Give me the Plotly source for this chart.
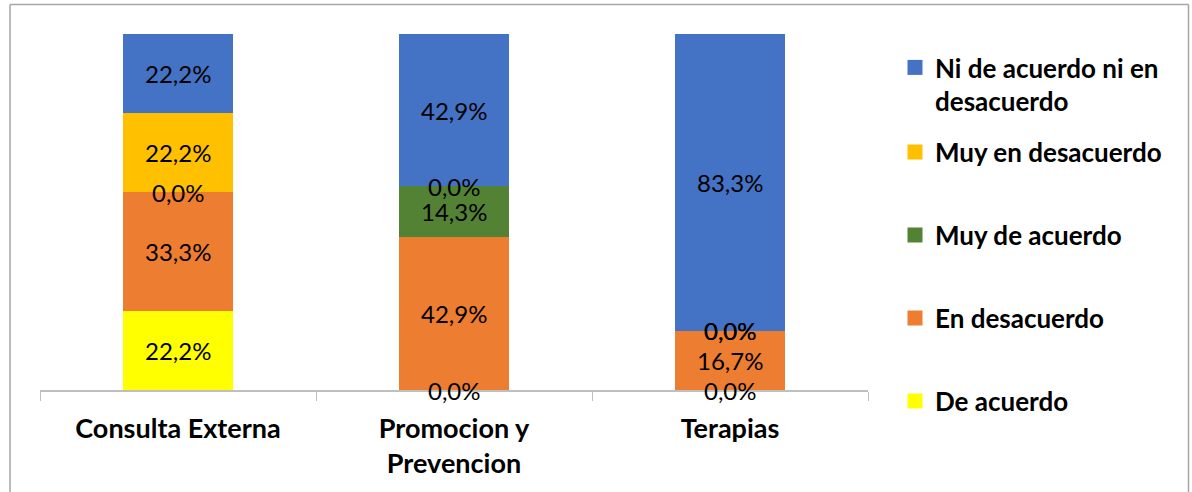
import plotly.graph_objects as go

categories = ["Consulta Externa", "Promocion y Prevencion", "Terapias"]
tick_labels = ["Consulta Externa", "Promocion y<br>Prevencion", "Terapias"]

de_acuerdo = [22.2, 0.0, 0.0]
en_desacuerdo = [33.3, 42.9, 16.7]
muy_de_acuerdo = [0.0, 14.3, 0.0]
muy_en_desacuerdo = [22.2, 0.0, 0.0]
ni_ni = [22.2, 42.9, 83.3]

series = [
    ("De acuerdo", de_acuerdo, "#FFFF00"),
    ("En desacuerdo", en_desacuerdo, "#ED7D31"),
    ("Muy de acuerdo", muy_de_acuerdo, "#548235"),
    ("Muy en desacuerdo", muy_en_desacuerdo, "#FFC000"),
    ("Ni de acuerdo ni en<br>desacuerdo", ni_ni, "#4472C4"),
]

FONT = "Lato"

# pixel layout of the plotting area
W, H = 1192, 492
L, R, T, B = 40, 868, 34, 390


def px_x(p):
    return (p - L) / (R - L)


def px_y(p):
    return (B - p) / (B - T)


# legend item vertical centres (px) from bottom trace to top trace
legend_y = [401, 318, 235, 152, 68]

fig = go.Figure()
annotations = []
base = [0.0] * len(categories)
for i, (name, vals, color) in enumerate(series):
    lg = "legend" if i == 0 else f"legend{i + 1}"
    fig.add_trace(go.Bar(
        x=categories, y=vals, name=name,
        marker=dict(color=color, line=dict(width=0)),
        width=0.4, showlegend=False, hoverinfo="skip",
    ))
    # square legend key for the series
    fig.add_trace(go.Scatter(
        x=[None], y=[None], mode="markers", name=name,
        marker=dict(symbol="square", size=15, color=color, line=dict(width=0)),
        legend=lg, showlegend=True, hoverinfo="skip",
    ))
    for j, v in enumerate(vals):
        annotations.append(dict(
            x=categories[j], y=base[j] + v / 2, xref="x", yref="y",
            text=f"{v:.1f}%".replace(".", ","), showarrow=False,
            font=dict(family=FONT, size=24, color="#000000"),
        ))
        base[j] += v

legend_layouts = {}
for i, yc in enumerate(legend_y):
    key = "legend" if i == 0 else f"legend{i + 1}"
    is_multi = "<br>" in series[i][0]
    legend_layouts[key] = dict(
        x=px_x(895), y=px_y(yc - 24) if is_multi else px_y(yc),
        xanchor="left", yanchor="top" if is_multi else "middle",
        valign="top", itemsizing="trace",
        font=dict(family=FONT, size=26, color="#000000", weight="bold"),
        bgcolor="rgba(0,0,0,0)", borderwidth=0,
    )

border = "#A6A6A6"
shapes = [
    dict(type="line", xref="paper", yref="paper", x0=px_x(10), x1=px_x(1188.5),
         y0=px_y(4.5), y1=px_y(4.5), line=dict(color=border, width=1.5)),
    dict(type="line", xref="paper", yref="paper", x0=px_x(10), x1=px_x(10),
         y0=px_y(4.5), y1=px_y(500), line=dict(color=border, width=1.5)),
    dict(type="line", xref="paper", yref="paper", x0=px_x(1188.5), x1=px_x(1188.5),
         y0=px_y(4.5), y1=px_y(500), line=dict(color=border, width=1.5)),
]

fig.update_layout(
    width=W, height=H,
    margin=dict(l=L, r=W - R, t=T, b=H - B, pad=0, autoexpand=False),
    barmode="stack",
    showlegend=True,
    plot_bgcolor="white", paper_bgcolor="white",
    annotations=annotations,
    shapes=shapes,
    **legend_layouts,
)
fig.update_xaxes(
    type="category", tickvals=categories, ticktext=tick_labels,
    tickson="boundaries", ticks="outside", ticklen=9, tickcolor="#BFBFBF",
    showline=True, linecolor="#BFBFBF", linewidth=1.5,
    showgrid=False, zeroline=False, ticklabelstandoff=14,
    tickfont=dict(family=FONT, size=27, color="#000000", weight="bold"),
)
fig.update_yaxes(range=[0, 100], visible=False, showgrid=False, zeroline=False)

fig.write_html("out.html")
